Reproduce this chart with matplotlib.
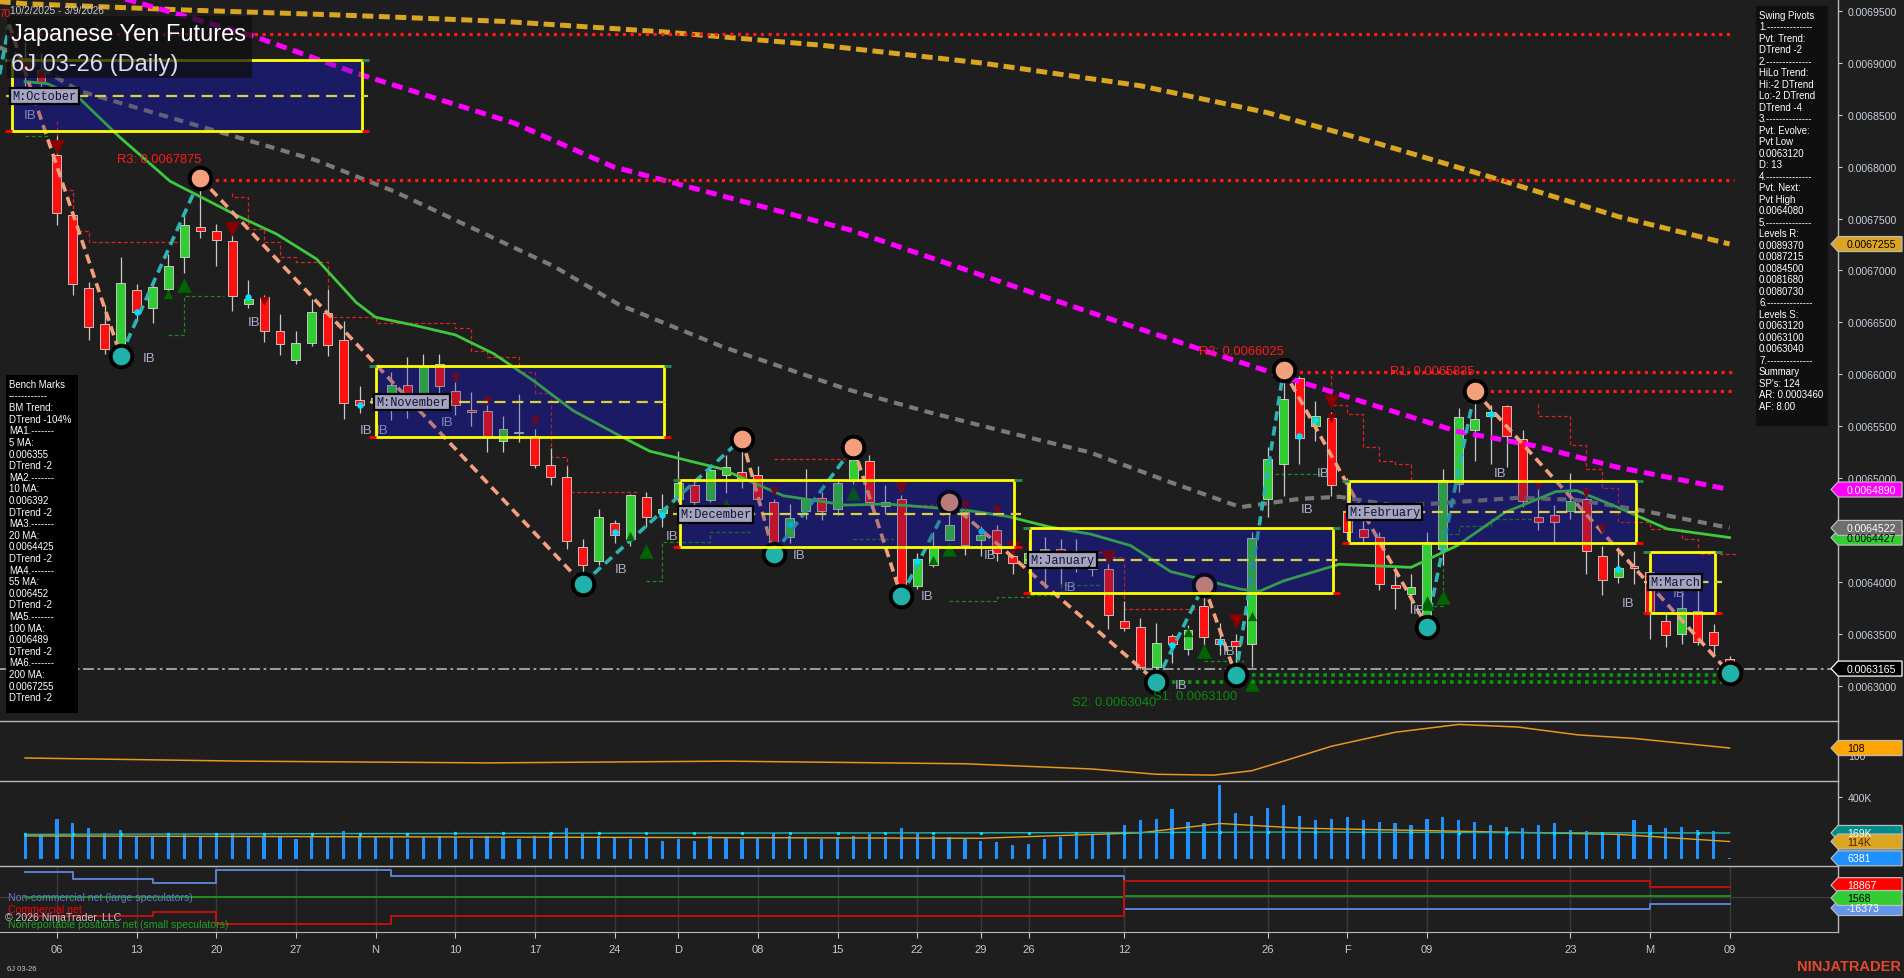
import numpy as np
import matplotlib
matplotlib.use("Agg")
import matplotlib.pyplot as plt
from matplotlib.patches import Rectangle, Polygon

plt.rcParams['font.family'] = ['Liberation Sans', 'DejaVu Sans']

W, H, DPI = 1904, 979, 100
BG = '#1e1e1e'

# ---------------- data ----------------
title = "Japanese Yen Futures"
subtitle = "6J 03-26 (Daily)"
date_range = "10/2/2025 - 3/9/2026"

tick_pos = [2, 7, 12, 17, 22, 27, 32, 37, 41, 46, 51, 56, 60, 63, 69, 78, 83, 88, 97, 102, 107]
tick_lbl = ['06', '13', '20', '27', 'N', '10', '17', '24', 'D', '08', '15', '22', '29', '26',
            '12', '26', 'F', '09', '23', 'M', '09']

opens = [.006905, .006893, .006811, .006753, .006683, .006648, .006626, .006681, .006664, .006682,
         .006713, .006742, .006738, .006728, .006668, .006674, .006642, .006614, .006630, .006659,
         .006633, .006575, .006572, .006570, .006590, .006574, .006610, .006584, .006566, .006565,
         .006536, .006543, .006541, .006513, .006501, .006434, .006420, .006457, .006441, .006482,
         .006466, .006480, .006493, .006479, .006503, .006506, .006503, .006477, .006443, .006468,
         .006481, .006470, .006497, .006516, .006473, .006480, .006396, .006416, .006440, .006467,
         .006440, .006450, .006425, .006418, .006415, .006432, .006425, .006420, .006412, .006362,
         .006357, .006318, .006348, .006335, .006377, .006345, .006343, .006340, .006480, .006514,
         .006596, .006550, .006558, .006468, .006451, .006443, .006397, .006388, .006368, .006432,
         .006494, .006546, .006560, .006569, .006538, .006463, .006464, .006468, .006480, .006425,
         .006405, .006415, .006410, .006362, .006350, .006372, .006352, .006326]
highs = [.006920, .006910, .006830, .006755, .006689, .006667, .006713, .006687, .006687, .006716,
         .006753, .006789, .006745, .006738, .006691, .006676, .006658, .006642, .006673, .006682,
         .006651, .006589, .006585, .006602, .006617, .006620, .006620, .006595, .006583, .006573,
         .006560, .006581, .006547, .006529, .006512, .006441, .006470, .006460, .006485, .006487,
         .006485, .006526, .006499, .006513, .006522, .006538, .006512, .006480, .006475, .006509,
         .006487, .006499, .006530, .006522, .006493, .006484, .006428, .006448, .006477, .006472,
         .006454, .006455, .006430, .006440, .006443, .006441, .006441, .006429, .006421, .006382,
         .006365, .006360, .006350, .006358, .006397, .006360, .006350, .006448, .006530, .006603,
         .006598, .006574, .006564, .006500, .006461, .006448, .006413, .006408, .006448, .006509,
         .006568, .006584, .006570, .006570, .006546, .006493, .006474, .006505, .006490, .006435,
         .006430, .006430, .006424, .006370, .006394, .006395, .006359, .006329]
lows = [.006878, .006870, .006744, .006676, .006633, .006620, .006618, .006651, .006649, .006678,
        .006698, .006731, .006704, .006661, .006664, .006631, .006619, .006610, .006627, .006618,
        .006557, .006563, .006565, .006556, .006558, .006567, .006582, .006561, .006550, .006525,
        .006525, .006535, .006510, .006493, .006432, .006398, .006416, .006437, .006435, .006453,
        .006453, .006477, .006464, .006477, .006486, .006490, .006475, .006427, .006437, .006461,
        .006460, .006464, .006494, .006474, .006465, .006386, .006393, .006414, .006440, .006426,
        .006425, .006420, .006408, .006410, .006394, .006398, .006410, .006406, .006355, .006353,
        .006316, .006304, .006322, .006330, .006333, .006330, .006310, .006318, .006463, .006483,
        .006514, .006536, .006483, .006440, .006437, .006392, .006374, .006370, .006357, .006416,
        .006487, .006516, .006514, .006511, .006472, .006450, .006437, .006461, .006408, .006387,
        .006399, .006398, .006345, .006337, .006340, .006339, .006330, .006312]
closes = [.006893, .006882, .006755, .006687, .006646, .006624, .006688, .006660, .006684, .006704,
          .006744, .006738, .006729, .006675, .006673, .006642, .006629, .006630, .006660, .006628,
          .006572, .006570, .006577, .006590, .006572, .006607, .006589, .006570, .006564, .006541,
          .006547, .006544, .006513, .006501, .006439, .006416, .006463, .006445, .006484, .006463,
          .006470, .006495, .006477, .006508, .006511, .006500, .006480, .006437, .006462, .006480,
          .006468, .006495, .006517, .006477, .006477, .006397, .006422, .006435, .006455, .006436,
          .006445, .006428, .006418, .006428, .006432, .006420, .006428, .006412, .006368, .006356,
          .006318, .006341, .006340, .006354, .006347, .006340, .006338, .006442, .006518, .006576,
          .006539, .006560, .006493, .006448, .006443, .006398, .006394, .006395, .006438, .006498,
          .006559, .006557, .006564, .006541, .006478, .006458, .006458, .006478, .006430, .006402,
          .006413, .006413, .006370, .006349, .006375, .006342, .006339, .0063165]

# moving averages (bar index, value)
ma200_i = [-1.6, 0, 10, 20, 30, 40, 50, 60, 70, 78, 85, 92, 100, 107]
ma200_v = [.006959, .006957, .006951, .006946, .006940, .006930, .006917, .006900, .006878,
           .006852, .006822, .006790, .006752, .0067255]
ma100_i = [2, 6.2, 14.3, 20.8, 30.7, 36.9, 51.8, 64.3, 73.8, 80, 84.9, 89.9, 94.8, 99.8, 107]
ma100_v = [.006985, .006962, .006926, .006890, .006842, .006800, .006739, .006673, .006624,
           .006593, .006569, .006545, .006531, .006511, .006489]
ma55_i = [-1.6, 0, 3.4, 12.3, 18.3, 23.2, 28.2, 33.2, 37.3, 43.7, 51.5, 56.6, 61.7, 66.8, 71.9,
          76.3, 80, 82.5, 86.2, 89.9, 93.7, 97.4, 101.1, 107]
ma55_v = [.006915, .006904, .006873, .006833, .006806, .006776, .006740, .006704, .006667, .006627,
          .006586, .006564, .006544, .006525, .006496, .006472, .006480, .006482, .006473, .006477,
          .006481, .006479, .006470, .006452]
ma20_i = [0, 1.4, 3.4, 5.9, 9.1, 13.3, 15.8, 18.3, 20.8, 22, 24.5, 27, 29.4, 31.9, 34.4, 37.3,
          39.2, 43.7, 47.6, 51.5, 54.1, 56.6, 59.1, 61.7, 64.3, 66.9, 69.4, 71.9, 74.5, 76.3, 77.5,
          79, 82.5, 87, 89.9, 92.9, 96.1, 97.4, 99.8, 103.1, 107]
ma20_v = [.006882, .006880, .006866, .006829, .006786, .006753, .006735, .006711, .006669, .006655,
          .006647, .006638, .006620, .006594, .006565, .006541, .006526, .006509, .006483, .006474,
          .006475, .006472, .006469, .006463, .006453, .006446, .006435, .006410, .006400, .006393,
          .006391, .006401, .006417, .006414, .006435, .006467, .006487, .006488, .006473, .006451,
          .0064427]

# monthly boxes
month_lbl = ['M:October', 'M:November', 'M:December', 'M:January', 'M:February', 'M:March']
month_start = [-0.8, 22.05, 41.1, 63.1, 83.1, 102.0]
month_end = [21.15, 40.1, 62.1, 82.1, 101.1, 106.1]
month_hi = [.006903, .006608, .006498, .006452, .006497, .006429]
month_lo = [.006834, .006540, .006434, .006389, .006437, .006370]
month_mid = [.006868, .006573, .006465, .006421, .006467, .006400]

# swing zigzag pivots
piv_i = [-1.6, -1, 6, 11, 35, 45, 47, 52, 55, 58, 71, 74, 76, 79, 88, 91, 107]
piv_p = [.006889, .006937, .006618, .006789, .006398, .006538, .006427, .006530, .006386, .006477,
         .006304, .006397, .006310, .006604, .006357, .006584, .006312]

# resistance / support levels
r_val = [.0069280, .0067875, .0066025, .0065835]
r_from = [-1, 11, 79, 91]
r_text = ['', 'R3: 0.0067875', 'R2: 0.0066025', 'R1: 0.0065835']
r_text_at = [(0, 0), (5.75, .006807), (73.7, .006622), (85.7, .006603)]
s_val = [.0063040, .0063100]
s_from = [71, 76]
s_text = ['S2: 0.0063040', 'S1: 0.0063100']
s_text_at = [(65.7, .006284), (70.8, .006290)]
last_price = 0.0063165

# trailing stop runs (start bar, per-bar levels)
trail_red = [
    (2, [.006844, .006778, .006738, .006727, .006727, .006727, .006727, .006727, .006727]),
    (13, [.006775, .006771, .006740, .006727, .006713, .006708, .006708, .006655, .006655, .006655,
          .006649, .006649, .006649, .006649, .006649, .006645, .006622, .006617, .006617, .006602,
          .006582, .006520, .006487, .006487, .006487, .006487]),
    (47, [.006518] * 5),
    (56, [.006474] * 3),
    (67, [.006429, .006429, .006424, .006374, .006374, .006374, .006374]),
    (82, [.006605, .006570, .006562, .006530, .006516, .006514, .006497]),
    (95, [.006571, .006560, .006560, .006532, .006509, .006490, .006458, .006458, .006451, .006451,
          .006441, .006427, .006427]),
]
trail_green = [
    (0, [.006830, .006830]),
    (9, [.006638, .006638, .006675, .006675]),
    (39, [.006401, .006401, .006438, .006438, .006438, .006448, .006448]),
    (52, [.006441] * 3),
    (58, [.006382, .006382, .006382, .006382, .006385, .006385, .006387, .006387, .006397, .006397]),
    (74, [.006324] * 3),
    (78, [.006463, .006504, .006504, .006504]),
    (88, [.006377, .006377, .006446, .006454, .006454, .006461, .006461, .006461]),
]

# signal markers
tri_up_i = [9, 10, 25, 38, 39, 44, 52, 57, 58, 71, 73, 74, 77, 77, 88, 89]
tri_up_p = [.006677, .006686, .006572, .006444, .006430, .006476, .006486, .006421, .006432,
            .006299, .006352, .006333, .006302, .006367, .006380, .006385]
tri_up_big = [0, 1, 0, 0, 1, 0, 1, 0, 1, 0, 0, 1, 1, 0, 1, 1]
tri_dn_i = [2, 13, 15, 27, 29, 32, 47, 55, 59, 61, 62, 68, 76, 82, 82, 95, 98, 99, 104]
tri_dn_p = [.006819, .006740, .006671, .006596, .006574, .006555, .006488, .006491, .006474,
            .006469, .006433, .006424, .006362, .006573, .006558, .006493, .006486, .006451, .006394]
tri_dn_big = [1, 1, 0, 0, 0, 0, 0, 1, 0, 0, 1, 1, 1, 1, 0, 0, 0, 0, 0]

dot_i = [7, 14, 21, 37, 40, 48, 56, 60, 72, 75, 80, 81, 92, 100]
dot_p = [.006660, .006674, .006570, .006448, .006464, .006456, .006420, .006449, .006339, .006342,
         .006541, .006556, .006562, .006412]

ib_i = [-0.1, 7.4, 14, 21, 22, 26.1, 37, 40.2, 48.2, 56.2, 60.2, 65.2, 72.2, 75.2, 81.1, 80.1,
        87.1, 92.2, 100.2, 103.4]
ib_p = [.006850, .006616, .006650, .006546, .006546, .006554, .006412, .006444, .006426, .006386,
        .006426, .006395, .006301, .006333, .006505, .006470, .006373, .006505, .006380, .006389]

# oscillator panel (orange line)
osc_i = [0, 13.7, 29, 44, 59, 67, 71, 74.6, 77, 79, 82, 86, 90, 93.7, 97.5, 101, 107]
osc_v = [96.6, 93, 91, 93, 90, 84, 78, 77, 82, 93, 110, 126, 135, 132, 123, 119, 108]

# volume (thousands)
volume = [150, 160, 260, 230, 200, 170, 190, 150, 140, 150, 160,
          150, 140, 170, 140, 150, 140, 130, 150, 140, 180, 150,
          140, 150, 130, 140, 150, 140, 130, 150, 140, 130, 150, 170, 200, 160, 150, 140, 130, 140, 120,
          130, 120, 150, 140, 130, 140, 170, 150, 140, 130, 140, 150, 160, 140, 200, 170, 150, 140, 130,
          120, 110, 90,
          100, 130, 140, 150, 160, 170, 220, 250, 260, 320, 240, 230, 480, 300, 280, 330, 350, 280, 250,
          260,
          270, 250, 240, 230, 220, 260, 270, 250, 240, 220, 210, 200, 220, 230, 190, 180, 170, 160, 250,
          220, 200, 210, 190, 180, 6.381]
oi_i = [0, 20, 40, 60, 70, 80, 90, 100, 107]
oi_v = [160, 165, 168, 170, 172, 175, 172, 170, 169]
vavg_i = [0, 20, 40, 60, 70, 75, 80, 90, 100, 107]
vavg_v = [150, 145, 140, 135, 170, 230, 200, 180, 160, 114]

# COT net positions (thousands), weekly steps
cot_i = [0, 3, 8, 12, 23, 69, 102, 107]
cot_noncomm = [58.5, 42, 32.8, 63.9, 49, -28, -16.4, -16.4]
cot_comm = [-44, -44, -35, -63, -44, 37, 23, 23]
cot_small = [0, 0, 0, 0, 0, 2.3, 1.6, 1.6]

swing_text = ["Swing Pivots", "1.--------------", "Pvt. Trend:", "DTrend -2", "2.--------------",
              "HiLo Trend:", "Hi:-2 DTrend", "Lo:-2 DTrend", "DTrend -4", "3.--------------",
              "Pvt. Evolve:", "Pvt Low", "0.0063120", "D: 13", "4.--------------", "Pvt. Next:",
              "Pvt High", "0.0064080", "5.--------------", "Levels R:", "0.0089370", "0.0087215",
              "0.0084500", "0.0081680", "0.0080730", "6.--------------", "Levels S:", "0.0063120",
              "0.0063100", "0.0063040", "7.--------------", "Summary", "SP's: 124", "AR: 0.0003460",
              "AF: 8.00"]
bench_text = ["Bench Marks", "------------", "BM Trend:", "DTrend -104%", "MA1.-------", "5 MA:",
              "0.006355", "DTrend -2", "MA2.-------", "10 MA:", "0.006392", "DTrend -2", "MA3.-------",
              "20 MA:", "0.0064425", "DTrend -2", "MA4.-------", "55 MA:", "0.006452", "DTrend -2",
              "MA5.-------", "100 MA:", "0.006489", "DTrend -2", "MA6.-------", "200 MA:", "0.0067255",
              "DTrend -2"]

# ---------------- layout ----------------
PLOT_R = 1838
X0_PX, BAR_PX = 25.1, 15.93
XMIN = -X0_PX / BAR_PX
XMAX = (PLOT_R - X0_PX) / BAR_PX
P_PER_PX = 9.634e-7
MAIN_YLIM = (0.00695 - 710 * P_PER_PX, 0.00695 + 12 * P_PER_PX)

fig = plt.figure(figsize=(W / DPI, H / DPI), dpi=DPI, facecolor=BG)


def panel(top, bottom):
    a = fig.add_axes([0, 1 - bottom / H, PLOT_R / W, (bottom - top) / H])
    a.set_facecolor(BG)
    a.set_xlim(XMIN, XMAX)
    for s in ['top', 'left', 'bottom']:
        a.spines[s].set_visible(False)
    a.spines['right'].set_color('#b8b8b8')
    a.spines['right'].set_linewidth(1)
    a.yaxis.tick_right()
    a.tick_params(axis='y', colors='#c8d0dc', labelsize=7.6, length=3, pad=4, width=0.8)
    a.tick_params(axis='x', bottom=False, labelbottom=False)
    return a


ax = panel(0, 722)
ax2 = panel(722, 782)
ax3 = panel(782, 867)
ax4 = panel(867, 933)

# ---------------- main price panel ----------------
ax.set_ylim(*MAIN_YLIM)
ax.set_yticks(np.round(np.arange(0.0063, 0.0069501, 0.00005), 7))
ax.yaxis.set_major_formatter(matplotlib.ticker.FormatStrFormatter('%.7f'))

idx = np.arange(len(closes))
o, hh, ll, c = map(np.array, (opens, highs, lows, closes))

# month boxes (under-fill)
NAVY = '#1a1a5e'
for s, e, hi, lo in zip(month_start, month_end, month_hi, month_lo):
    ax.add_patch(Rectangle((s, lo), e - s, hi - lo, fc=NAVY, ec='none', zorder=1))

# trailing stops
for st, lv in trail_red:
    xs = np.arange(st, st + len(lv))
    ax.step(np.r_[xs, xs[-1] + 0.5], np.r_[lv, lv[-1]], where='pre', color='#e02020', lw=0.9,
            dashes=(3, 2), zorder=2)
for st, lv in trail_green:
    xs = np.arange(st, st + len(lv))
    ax.step(np.r_[xs, xs[-1] + 0.5], np.r_[lv, lv[-1]], where='pre', color='#1a8a1a', lw=0.9,
            dashes=(3, 2), zorder=2)

# candles
ax.vlines(idx, ll, hh, color='#c8c8c8', lw=0.9, zorder=3)
bb = np.minimum(o, c)
bh = np.maximum(np.abs(c - o), 1.2e-6)
ax.bar(idx, bh, bottom=bb, width=0.56, color=np.where(c >= o, '#32cd32', '#ff1010'),
       edgecolor='#d8d8d8', linewidth=0.6, zorder=3)

# moving averages
ax.plot(ma200_i, ma200_v, color='#daa520', lw=3.6, dashes=(2.2, 1.1), solid_capstyle='butt', zorder=4)
ax.plot(ma100_i, ma100_v, color='#ff00ff', lw=3.6, dashes=(2.2, 1.3), zorder=4)
ax.plot(ma55_i, ma55_v, color='#7a7a7a', lw=3.0, dashes=(2.2, 1.6), zorder=4)
ax.plot(ma20_i, ma20_v, color='#3ec83e', lw=2.0, zorder=4)

# zigzag
for k in range(len(piv_i) - 1):
    up = piv_p[k + 1] > piv_p[k]
    ax.plot(piv_i[k:k + 2], piv_p[k:k + 2], color='#2ab5b0' if up else '#f4a07c', lw=2.6,
            dashes=(2.6, 1.6), zorder=5)

# current price line
ax.axhline(last_price, color='#a8a8a8', lw=1.3, dashes=(6, 2, 1.5, 2), zorder=5)

# R / S levels
for v, f in zip(r_val, r_from):
    ax.hlines(v, f, 107.3, color='#ff1a1a', lw=2.3, linestyles=(0, (1, 1.4)), zorder=6)
for v, f in zip(s_val, s_from):
    ax.hlines(v, f, 107.3, color='#0a9a0a', lw=2.6, linestyles=(0, (1, 1.2)), zorder=6)
for t, (xi, yp) in zip(r_text, r_text_at):
    if t:
        ax.text(xi, yp, t, color='#ff1a1a', fontsize=9.3, va='center', ha='left', zorder=9)
for t, (xi, yp) in zip(s_text, s_text_at):
    ax.text(xi, yp, t, color='#0a8a0a', fontsize=9.3, va='center', ha='left', zorder=9)

# markers
for i_, p_, b_ in zip(tri_up_i, tri_up_p, tri_up_big):
    ax.scatter(i_, p_, marker='^', s=110 if b_ else 45, color='#006400', zorder=5, linewidths=0)
for i_, p_, b_ in zip(tri_dn_i, tri_dn_p, tri_dn_big):
    ax.scatter(i_, p_, marker='v', s=110 if b_ else 45, color='#8b0000', zorder=5, linewidths=0)
ax.scatter(dot_i, dot_p, s=22, color='#00e0ff', zorder=5, linewidths=0)

# pivot circles (first visible pivot onwards)
for k in range(2, len(piv_i)):
    hi_ = piv_p[k] > piv_p[k - 1]
    ax.scatter(piv_i[k], piv_p[k], s=240, color='#f4a07c' if hi_ else '#20b2aa', edgecolors='black',
               linewidths=2.8, zorder=6)

for i_, p_ in zip(ib_i, ib_p):
    ax.text(i_, p_, 'IB', color='#aab0cc', fontsize=9.5, ha='left', va='center', zorder=6)

# box overlays, borders, midlines, labels
for s, e, hi, lo, mid, lb in zip(month_start, month_end, month_hi, month_lo, month_mid, month_lbl):
    ax.add_patch(Rectangle((s, lo), e - s, hi - lo, fc='#20207a', alpha=0.28, ec='none', zorder=7))
    ax.add_patch(Rectangle((s, lo), e - s, hi - lo, fc='none', ec='#ffff00', lw=2, zorder=8))
    ax.hlines(mid, s - 0.4, e + 0.4, color='#d8d040', lw=1.6, linestyles=(0, (5, 3)), zorder=8)
    ax.hlines(hi, e, e + 0.45, color='#2e8b57', lw=2, zorder=8)
    ax.hlines(lo, e, e + 0.45, color='#ff0000', lw=2, zorder=8)
    ax.hlines(hi, s - 0.45, s, color='#2e8b57', lw=2, zorder=8)
    ax.hlines(lo, s - 0.45, s, color='#ff0000', lw=2, zorder=8)
    ax.text(s, mid, lb, family=['Liberation Mono', 'DejaVu Sans Mono'], fontsize=8.6,
            color='#101030', ha='left', va='center', zorder=9,
            bbox=dict(boxstyle='square,pad=0.18', fc='#a4a4c0', ec='black', lw=1.6))

# ---------------- oscillator panel ----------------
ax2.set_ylim(70.3, 138.9)
ax2.set_yticks([100])
ax2.plot(osc_i, osc_v, color='#e8961e', lw=1.1)

# ---------------- volume panel ----------------
ax3.set_ylim(-43, 502.6)
ax3.set_yticks([400])
ax3.set_yticklabels(['400K'])
ax3.bar(idx, volume, width=0.2, color='#1e90ff', zorder=2)
ax3.plot(vavg_i, vavg_v, color='#daa520', lw=1.0, zorder=3)
ax3.plot(oi_i, oi_v, color='#20b2aa', lw=1.0, zorder=3)
ax3.scatter(idx[::3], np.interp(idx[::3], oi_i, oi_v), s=6, color='#00e0ff', zorder=4, linewidths=0)

# ---------------- COT panel ----------------
ax4.set_ylim(-81.9, 72.5)
ax4.set_yticks([])
for tp in tick_pos:
    ax4.axvline(tp, color='#3a3a3a', lw=1, zorder=1)
ax4.axhline(0, color='#3a3a3a', lw=1, zorder=1)
ax4.step(cot_i, cot_noncomm, where='post', color='#5b7fd0', lw=1.4, zorder=3)
ax4.step(cot_i, cot_small, where='post', color='#1f8f1f', lw=1.4, zorder=3)
ax4.step(cot_i, cot_comm, where='post', color='#c01010', lw=1.4, zorder=3)
ax4.tick_params(axis='x', bottom=True, labelbottom=True, colors='#c8c8c8', labelsize=8, length=4,
                pad=5, direction='out')
ax4.set_xticks(tick_pos)
ax4.set_xticklabels(tick_lbl)
ax4.spines['bottom'].set_visible(True)
ax4.spines['bottom'].set_color('#b8b8b8')

# ---------------- overlay (pixel space) ----------------
ov = fig.add_axes([0, 0, 1, 1], zorder=20)
ov.set_xlim(0, W)
ov.set_ylim(H, 0)
ov.axis('off')
ov.patch.set_alpha(0)

for yy in (722, 782, 867):
    ov.plot([0, PLOT_R], [yy, yy], color='#b8b8b8', lw=1)

# title
ov.add_patch(Rectangle((7, 17), 245, 62, fc='#0e0e0e', alpha=0.72, ec='none'))
ov.text(11, 35, title, color='white', fontsize=17, va='center', ha='left')
ov.text(11, 65, subtitle, color='#dcdcf4', fontsize=17, va='center', ha='left')
ov.text(10, 11, date_range, color='#c8c8c8', fontsize=7.3, va='center', ha='left')
ov.text(0, 14, '70', color='#ff1a1a', fontsize=7.2, va='center', ha='left')

# swing pivots box
ov.add_patch(Rectangle((1756, 7), 72, 420, fc='#0f0f0f', ec='none'))
for k, t in enumerate(swing_text):
    ov.text(1759, 15.7 + 11.5 * k, t, color='white', fontsize=6.9, va='center', ha='left')

# bench marks box
ov.add_patch(Rectangle((6, 376), 72, 338, fc='black', ec='none'))
for k, t in enumerate(bench_text):
    ov.text(9, 385 + 11.6 * k, t, color='white', fontsize=6.9, va='center', ha='left')

# COT legend
ov.text(8, 898, 'Non-commercial net (large speculators)', color='#5b7fd0', fontsize=7.6, va='center')
ov.text(8, 910, 'Commercial net', color='#ff0000', fontsize=7.6, va='center')
ov.text(5, 918, '\u00a9 2026 NinjaTrader, LLC', color='#c8c8c8', fontsize=7.6, va='center')
ov.text(8, 925, 'Nonreportable positions net (small speculators)', color='#22a022', fontsize=7.6,
        va='center')

ov.text(7, 970, '6J 03-26', color='#c8c8c8', fontsize=5.5, va='center')
ov.text(1901, 967, 'NINJATRADER', color='#e8482a', fontsize=10.5, fontweight='bold', va='center',
        ha='right')


def ypix(a, v):
    return H - a.transData.transform((0, v))[1]


def flag(a, v, fc, tc, text, ec='#bbbbbb', dy=0.0):
    y = ypix(a, v) + dy
    pts = [(1831, y), (1838, y - 7.5), (1902, y - 7.5), (1902, y + 7.5), (1838, y + 7.5)]
    ov.add_patch(Polygon(pts, closed=True, fc=fc, ec=ec, lw=0.9))
    ov.text(1847, y, text, color=tc, fontsize=7.6, va='center', ha='left')


flag(ax, ma200_v[-1], '#daa520', 'black', '0.0067255')
flag(ax, ma100_v[-1], '#ff00ff', 'white', '0.0064890')
flag(ax, ma20_v[-1], '#32cd32', 'black', '0.0064427')
flag(ax, ma55_v[-1], '#6e6e6e', 'white', '0.0064522')
flag(ax, last_price, 'black', 'white', '0.0063165', ec='white')
flag(ax2, osc_v[-1], '#ffa500', 'black', '108')
flag(ax3, oi_v[-1], '#008b8b', 'white', '169K')
flag(ax3, vavg_v[-1], '#daa520', '#5a1a00', '114K')
flag(ax3, volume[-1], '#1e90ff', 'white', '6381')
flag(ax4, cot_comm[-1], '#ff0000', 'white', '18867', dy=-2)
flag(ax4, cot_noncomm[-1], '#6495ed', 'white', '-16373', dy=4)
flag(ax4, cot_small[-1] - 4, '#32cd32', 'black', '1568')

fig.savefig('out.png', dpi=DPI, facecolor=BG)
